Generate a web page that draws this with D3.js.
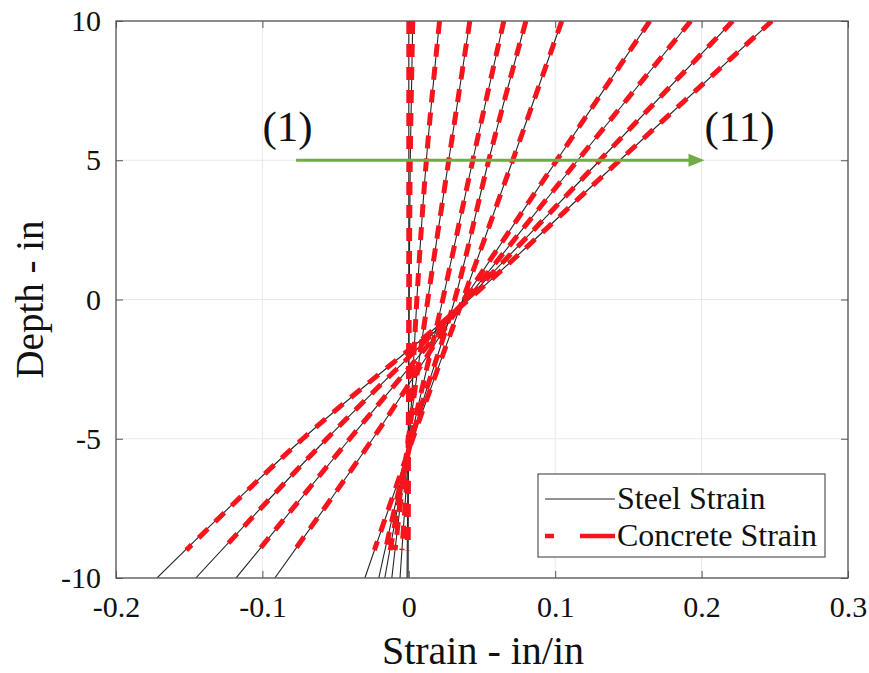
<!DOCTYPE html>
<html>
<head>
<meta charset="utf-8">
<script src="https://cdn.jsdelivr.net/npm/d3@7"></script>
<style>
  html, body { margin: 0; padding: 0; background: #fff; }
  svg { display: block; font-family: "Liberation Serif", "Times New Roman", serif; }
</style>
</head>
<body>
<svg id="chart" width="869" height="673"></svg>
<script>
// ---- Data ----
const steelDepths = [10, 5, 0, -5, -10];
const concreteDepths = [10, 5, 0, -5, -9];

const steel1  = [0.0000, 0.0000, 0.0000, -0.0002, -0.0005];
const steel2  = [0.0027, 0.0010, 0.0003, -0.0004, -0.0012];
const steel3  = [0.0210, 0.0120, 0.0055, 0.0005, -0.0060];
const steel4  = [0.0417, 0.0273, 0.0130, -0.0003, -0.0116];
const steel5  = [0.0649, 0.0437, 0.0232, 0.0015, -0.0164];
const steel6  = [0.0800, 0.0546, 0.0314, 0.0020, -0.0205];
const steel7  = [0.1045, 0.0710, 0.0369, 0.0027, -0.0300];
const steel8  = [0.1646, 0.1011, 0.0376, -0.0246, -0.0915];
const steel9  = [0.1926, 0.1154, 0.0390, -0.0403, -0.1180];
const steel10 = [0.2213, 0.1305, 0.0396, -0.0560, -0.1455];
const steel11 = [0.2480, 0.1441, 0.0410, -0.0724, -0.1720];

const concrete1  = [0.0000, 0.0000, 0.0000, -0.0002, -0.0004];
const concrete2  = [0.0027, 0.0010, 0.0003, -0.0004, -0.0010];
const concrete3  = [0.0210, 0.0120, 0.0055, 0.0005, -0.0047];
const concrete4  = [0.0417, 0.0273, 0.0130, -0.0003, -0.0094];
const concrete5  = [0.0649, 0.0437, 0.0232, 0.0015, -0.0127];
const concrete6  = [0.0800, 0.0546, 0.0314, 0.0020, -0.0160];
const concrete7  = [0.1045, 0.0710, 0.0369, 0.0027, -0.0235];
const concrete8  = [0.1646, 0.1011, 0.0376, -0.0246, -0.0780];
const concrete9  = [0.1926, 0.1154, 0.0390, -0.0403, -0.1025];
const concrete10 = [0.2213, 0.1305, 0.0396, -0.0560, -0.1276];
const concrete11 = [0.2480, 0.1441, 0.0410, -0.0724, -0.1520];

const steelSeries = [steel1, steel2, steel3, steel4, steel5, steel6, steel7, steel8, steel9, steel10, steel11];
const concreteSeries = [concrete1, concrete2, concrete3, concrete4, concrete5, concrete6, concrete7, concrete8, concrete9, concrete10, concrete11];

const xTicks = [-0.2, -0.1, 0, 0.1, 0.2, 0.3];
const yTicks = [-10, -5, 0, 5, 10];
const xTickLabels = ["-0.2", "-0.1", "0", "0.1", "0.2", "0.3"];
const yTickLabels = ["-10", "-5", "0", "5", "10"];

const arrowFrom = [-0.077, 5];
const arrowTo = [0.202, 5];
const annotations = [
  { text: "(1)", x: -0.1, y: 5.7 },
  { text: "(11)", x: 0.202, y: 5.7 }
];
const legendLabels = ["Steel Strain", "Concrete Strain"];

// ---- Layout ----
const svg = d3.select("#chart");
const plot = { left: 116, right: 848, top: 21, bottom: 578 };

const x = d3.scaleLinear().domain([-0.2, 0.3]).range([plot.left, plot.right]);
const y = d3.scaleLinear().domain([-10, 10]).range([plot.bottom, plot.top]);

svg.append("defs").append("clipPath").attr("id", "clip")
  .append("rect")
  .attr("x", plot.left).attr("y", plot.top)
  .attr("width", plot.right - plot.left).attr("height", plot.bottom - plot.top);

// grid
const grid = svg.append("g");
grid.selectAll(".gx").data(xTicks).join("line")
  .attr("x1", d => x(d)).attr("x2", d => x(d))
  .attr("y1", plot.top).attr("y2", plot.bottom)
  .attr("stroke", "#e8e8e8").attr("stroke-width", 1);
grid.selectAll(".gy").data(yTicks).join("line")
  .attr("x1", plot.left).attr("x2", plot.right)
  .attr("y1", d => y(d)).attr("y2", d => y(d))
  .attr("stroke", "#e8e8e8").attr("stroke-width", 1);

// lines
const lineG = svg.append("g").attr("clip-path", "url(#clip)");
const strainLine = d3.line()
  .x(d => x(d[0])).y(d => y(d[1]))
  .curve(d3.curveMonotoneY);

steelSeries.forEach(s => {
  const pts = s.map((v, i) => [v, steelDepths[i]]);
  lineG.append("path").attr("d", strainLine(pts))
    .attr("fill", "none").attr("stroke", "#262626").attr("stroke-width", 1.1);
});
concreteSeries.forEach(s => {
  const pts = s.map((v, i) => [v, concreteDepths[i]]);
  lineG.append("path").attr("d", strainLine(pts))
    .attr("fill", "none").attr("stroke", "#f7141c").attr("stroke-width", 5)
    .attr("stroke-dasharray", "13,10");
});

// green arrow
const ax1 = x(arrowFrom[0]), ay = y(arrowFrom[1]), ax2 = x(arrowTo[0]);
svg.append("line")
  .attr("x1", ax1).attr("y1", ay).attr("x2", ax2 - 12).attr("y2", ay)
  .attr("stroke", "#6fac46").attr("stroke-width", 3);
svg.append("path")
  .attr("d", `M${ax2},${ay} L${ax2 - 16},${ay - 6.5} L${ax2 - 16},${ay + 6.5} Z`)
  .attr("fill", "#6fac46");

annotations.forEach(a => {
  svg.append("text").attr("x", x(a.x)).attr("y", y(a.y))
    .attr("font-size", 43).attr("fill", "#111").text(a.text);
});

// axes box
svg.append("rect")
  .attr("x", plot.left).attr("y", plot.top)
  .attr("width", plot.right - plot.left).attr("height", plot.bottom - plot.top)
  .attr("fill", "none").attr("stroke", "#555").attr("stroke-width", 1.3);

// axes via d3
const xAxis = d3.axisBottom(x).tickValues(xTicks).tickFormat((d, i) => xTickLabels[i])
  .tickSizeInner(-7).tickSizeOuter(0).tickPadding(18);
const yAxis = d3.axisLeft(y).tickValues(yTicks).tickFormat((d, i) => yTickLabels[i])
  .tickSizeInner(-7).tickSizeOuter(0).tickPadding(15);

const gx = svg.append("g").attr("transform", `translate(0,${plot.bottom})`).call(xAxis);
const gy = svg.append("g").attr("transform", `translate(${plot.left},0)`).call(yAxis);
[gx, gy].forEach(g => {
  g.select(".domain").remove();
  g.selectAll(".tick line").attr("stroke", "#555");
  g.selectAll(".tick text").attr("font-size", 30).attr("fill", "#111")
    .attr("font-family", "'Liberation Serif', 'Times New Roman', serif");
});
// top and right ticks
const gxt = svg.append("g").attr("transform", `translate(0,${plot.top})`)
  .call(d3.axisTop(x).tickValues(xTicks).tickSizeInner(-7).tickSizeOuter(0).tickFormat(""));
const gyr = svg.append("g").attr("transform", `translate(${plot.right},0)`)
  .call(d3.axisRight(y).tickValues(yTicks).tickSizeInner(-7).tickSizeOuter(0).tickFormat(""));
[gxt, gyr].forEach(g => { g.select(".domain").remove(); g.selectAll(".tick line").attr("stroke", "#555"); });

// axis labels
svg.append("text").attr("x", 483).attr("y", 664)
  .attr("text-anchor", "middle").attr("font-size", 40).attr("fill", "#111")
  .text("Strain - in/in");
svg.append("text")
  .attr("transform", `translate(43,${(plot.top + plot.bottom) / 2}) rotate(-90)`)
  .attr("text-anchor", "middle").attr("font-size", 39).attr("fill", "#111")
  .text("Depth - in");

// legend
const lg = svg.append("g");
lg.append("rect").attr("x", 538).attr("y", 474).attr("width", 287).attr("height", 83)
  .attr("fill", "#fff").attr("stroke", "#555").attr("stroke-width", 1.2);
lg.append("line").attr("x1", 545).attr("x2", 615).attr("y1", 499).attr("y2", 499)
  .attr("stroke", "#262626").attr("stroke-width", 1.1);
lg.append("line").attr("x1", 545).attr("x2", 615).attr("y1", 536).attr("y2", 536)
  .attr("stroke", "#f7141c").attr("stroke-width", 4.5).attr("stroke-dasharray", "9,26,40");
legendLabels.forEach((t, i) => {
  lg.append("text").attr("x", 617).attr("y", 509 + i * 37)
    .attr("font-size", 32).attr("fill", "#111").text(t);
});
</script>
</body>
</html>
